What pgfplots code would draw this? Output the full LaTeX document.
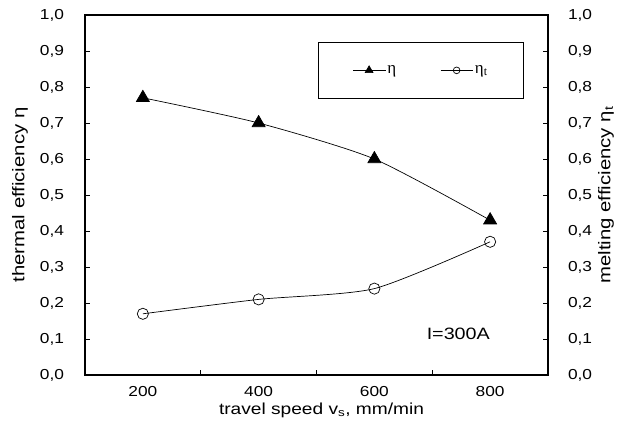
\documentclass[border=0pt]{standalone}
\usepackage{pgfplots}
\pgfplotsset{compat=1.18}
\usepackage{fontspec}
\setmainfont{Liberation Sans}[FakeStretch=1.2]
\newfontfamily\serif{Liberation Serif}
\begin{document}
\fontsize{14.5}{17}\selectfont
\begin{tikzpicture}
\path (-85bp,-47bp) rectangle (541bp,375bp);
\pgfplotsset{
  common/.style={
    scale only axis, width=463bp, height=360bp,
    xmin=100, xmax=900, ymin=0, ymax=1,
    ytick={0,0.1,...,1.0},
    tick align=inside,
    major tick length=5bp, minor tick length=5bp,
    axis line style={line width=1.1pt},
    tick style={line width=0.6pt, black},
    yticklabel style={/pgf/number format/use comma, /pgf/number format/fixed, /pgf/number format/fixed zerofill, /pgf/number format/precision=1, /pgf/number format/assume math mode=true},
    every tick label/.append style={font=\fontsize{14.5}{17}\selectfont},
    ylabel style={font=\fontsize{17}{20}\selectfont},
    xlabel style={font=\fontsize{16}{19}\selectfont},
  }
}
\begin{axis}[common,
  ytick pos=left,
  xtick={200,400,600,800},
  xticklabel style={/pgf/number format/assume math mode=true, inner sep=0pt, anchor=center, yshift=-17bp},
  xtick pos=bottom,
  major x tick style={draw=none},
  minor xtick={300,500,700},
  xlabel={travel speed v\textsubscript{s}, mm/min},
  ylabel={thermal efficiency η},
  ylabel style={at={(rel axis cs:0,0.5)}, anchor=center, yshift=65bp},
  xlabel style={at={(rel axis cs:0.5,0)}, anchor=center, inner sep=0pt, yshift=-35bp, xshift=5bp},
  yticklabel style={xshift=-16bp},
  legend columns=2,
  legend style={at={(0.948,0.925)}, anchor=north east, draw=black, line width=0.6pt,
     inner xsep=34bp, inner ysep=21bp, font=\serif\fontsize{17}{19}\selectfont,
     /tikz/every even column/.append style={column sep=42bp}},
  legend image code/.code={\draw[mark repeat=2,mark phase=2,#1, every mark/.append style={scale=0.6}] plot coordinates {(0bp,0bp) (16bp,0bp) (32bp,0bp)};},
]
\addplot[black, line width=0.7pt, smooth, tension=0.4, mark=triangle*, mark size=7.5bp, mark options={fill=black}]
  coordinates {(200,0.77) (400,0.70) (600,0.60) (800,0.43)};
\addlegendentry{η}
\addplot[black, line width=0.7pt, smooth, tension=0.4, mark=o, mark size=5.6bp, mark options={fill=white, line width=0.7pt}]
  coordinates {(200,0.17) (400,0.21) (600,0.24) (800,0.37)};
\addlegendentry{η\textsubscript{t}}
\node[anchor=center, font=\fontsize{16.5}{19}\selectfont] at (axis cs:745,0.115) {I=300A};
\end{axis}
\begin{axis}[common,
  axis x line=none,
  axis y line*=right,
  ytick pos=right,
  ylabel={melting efficiency η\textsubscript{t}},
  ylabel style={at={(rel axis cs:1,0.5)}, anchor=center, yshift=-58bp},
  yticklabel style={xshift=15bp},
]
\end{axis}
\end{tikzpicture}
\end{document}
